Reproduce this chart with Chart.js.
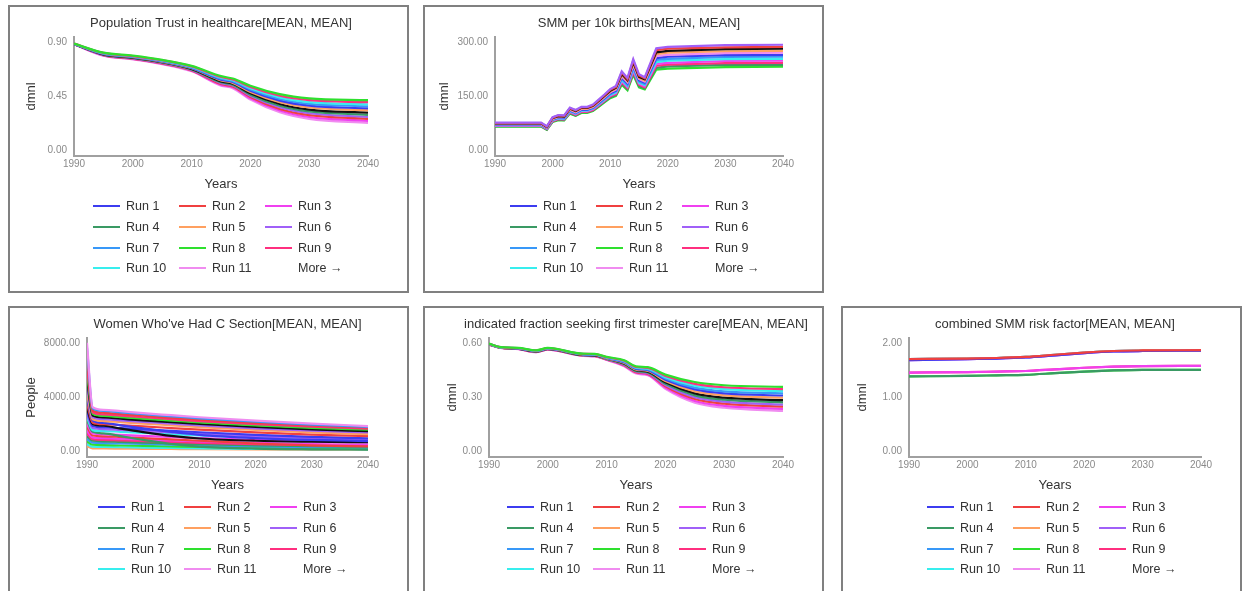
<!DOCTYPE html>
<html>
<head>
<meta charset="utf-8">
<script src="https://cdn.jsdelivr.net/npm/chart.js@4.4.0/dist/chart.umd.min.js"></script>
<style>
body { margin: 0; background: #fff; font-family: "Liberation Sans", Arial, sans-serif; }
.panel { position: absolute; width: 401px; height: 288px; border: 2px solid #808080; box-sizing: border-box; background: #fff; }
.panel canvas { position: absolute; left: 0; top: 0; }
.legend { position: absolute; top: 189px; display: grid; grid-template-columns: 86px 86px 86px; grid-auto-rows: 20.7px; font-size: 12.5px; color: #333; }
.legend div { display: flex; align-items: center; white-space: nowrap; }
.legend .sw { display: inline-block; width: 27px; height: 2px; margin-right: 6px; }
</style>
</head>
<body>
<div class="panel" style="left:8px;top:5px"><canvas id="c1" width="397" height="190"></canvas><div class="legend" id="l1" style="left:83px"></div></div>
<div class="panel" style="left:423px;top:5px"><canvas id="c2" width="397" height="190"></canvas><div class="legend" id="l2" style="left:85px"></div></div>
<div class="panel" style="left:8px;top:306px"><canvas id="c3" width="397" height="190"></canvas><div class="legend" id="l3" style="left:88px"></div></div>
<div class="panel" style="left:423px;top:306px"><canvas id="c4" width="397" height="190"></canvas><div class="legend" id="l4" style="left:82px"></div></div>
<div class="panel" style="left:841px;top:306px"><canvas id="c5" width="397" height="190"></canvas><div class="legend" id="l5" style="left:84px"></div></div>
<script>
const runColors = ['#3c3cf0', '#f04040', '#f040f0', '#3a9a64', '#ffa060', '#a060f8', '#3898f8', '#2ee02e', '#ff2f7f', '#38eeee', '#f08cf0', '#111111'];
const legendRuns = [1, 2, 3, 4, 5, 6, 7, 8, 9, 10, 11];
const xTicks = [1990, 2000, 2010, 2020, 2030, 2040];

// Population Trust in healthcare
const trustYears = [1990, 1995, 2000, 2005, 2010, 2015, 2017, 2020, 2025, 2030, 2040];
const trustTicks = [0, 0.45, 0.9];
const trustIds = [8, 9, 10, 7, 1, 5, 12, 4, 6, 2, 3, 11];
const trustValues = [
  [0.885, 0.810, 0.785, 0.750, 0.700, 0.615, 0.595, 0.535, 0.465, 0.430, 0.415],
  [0.885, 0.808, 0.782, 0.747, 0.696, 0.608, 0.588, 0.525, 0.452, 0.415, 0.398],
  [0.884, 0.806, 0.780, 0.744, 0.692, 0.601, 0.581, 0.514, 0.438, 0.399, 0.381],
  [0.884, 0.803, 0.777, 0.741, 0.688, 0.593, 0.573, 0.504, 0.425, 0.384, 0.364],
  [0.883, 0.801, 0.774, 0.737, 0.684, 0.586, 0.566, 0.494, 0.411, 0.369, 0.347],
  [0.883, 0.799, 0.772, 0.734, 0.680, 0.579, 0.559, 0.483, 0.398, 0.354, 0.330],
  [0.882, 0.796, 0.769, 0.731, 0.675, 0.571, 0.551, 0.472, 0.383, 0.337, 0.311],
  [0.882, 0.794, 0.766, 0.728, 0.671, 0.564, 0.544, 0.461, 0.369, 0.321, 0.293],
  [0.881, 0.792, 0.763, 0.724, 0.667, 0.557, 0.537, 0.451, 0.356, 0.306, 0.276],
  [0.881, 0.790, 0.760, 0.721, 0.663, 0.549, 0.529, 0.441, 0.342, 0.291, 0.259],
  [0.880, 0.787, 0.758, 0.718, 0.659, 0.542, 0.522, 0.430, 0.329, 0.275, 0.242],
  [0.880, 0.785, 0.755, 0.715, 0.655, 0.535, 0.515, 0.420, 0.315, 0.260, 0.225]
];

// SMM per 10k births
const smmYears = [1990, 1998, 1999, 2000, 2001, 2002, 2003, 2004, 2005, 2006, 2007, 2008, 2009, 2010, 2011, 2012, 2013, 2014, 2015, 2016, 2018, 2020, 2030, 2040];
const smmTicks = [0, 150, 300];
const smmIds = [6, 2, 12, 5, 11, 1, 7, 10, 3, 9, 4, 8];
const smmValues = [
  [76, 76, 66, 91, 97, 96, 118, 111, 120, 120, 126, 140, 154, 169, 178, 218, 200, 252, 210, 202, 282, 286, 291, 292],
  [75, 75, 65, 90, 96, 95, 116, 110, 118, 118, 124, 138, 152, 167, 175, 215, 197, 248, 207, 199, 277, 281, 285, 286],
  [74, 74, 64, 89, 94, 93, 115, 108, 117, 117, 123, 136, 150, 164, 173, 211, 194, 244, 203, 196, 271, 275, 280, 281],
  [73, 73, 63, 87, 93, 92, 113, 107, 115, 115, 121, 135, 148, 162, 170, 208, 191, 240, 200, 193, 266, 270, 274, 275],
  [72, 72, 62, 86, 92, 91, 112, 105, 114, 114, 119, 133, 146, 160, 168, 205, 188, 236, 197, 190, 261, 264, 269, 270],
  [71, 71, 61, 85, 91, 90, 110, 104, 112, 112, 118, 131, 144, 158, 165, 201, 185, 232, 194, 187, 255, 259, 263, 264],
  [70, 70, 61, 84, 89, 88, 109, 102, 111, 111, 116, 129, 142, 155, 163, 198, 181, 229, 190, 183, 250, 253, 258, 259],
  [69, 69, 60, 83, 88, 87, 107, 101, 109, 109, 115, 127, 140, 153, 160, 194, 178, 225, 187, 180, 244, 248, 252, 253],
  [68, 68, 59, 82, 87, 86, 106, 99, 108, 108, 113, 125, 138, 151, 158, 191, 175, 221, 184, 177, 239, 242, 247, 248],
  [67, 67, 58, 80, 86, 85, 104, 98, 106, 106, 111, 124, 136, 149, 155, 188, 172, 217, 181, 174, 234, 237, 241, 242],
  [66, 66, 57, 79, 84, 83, 103, 96, 105, 105, 110, 122, 134, 146, 153, 184, 169, 213, 177, 171, 228, 232, 236, 236],
  [65, 65, 56, 78, 83, 82, 101, 95, 103, 103, 108, 120, 132, 144, 150, 181, 166, 209, 174, 168, 223, 226, 230, 231]
];

// Women Who've Had C Section
const csYears = [1990, 1991, 1993, 1996, 2000, 2005, 2010, 2020, 2030, 2040];
const csTicks = [0, 4000, 8000];
const csIds = [11, 7, 2, 9, 8, 12, 6, 5, 13, 14, 24, 1, 18, 10, 4, 15, 26, 3, 21, 16, 19, 20, 22, 17];
const csValues = [
  [8000, 3250, 3050, 2950, 2800, 2650, 2500, 2250, 2030, 1850],
  [7650, 3150, 2960, 2860, 2720, 2570, 2420, 2170, 1960, 1790],
  [6950, 3000, 2830, 2740, 2610, 2470, 2330, 2090, 1890, 1740],
  [6300, 2870, 2710, 2620, 2500, 2360, 2220, 1990, 1800, 1660],
  [5800, 2750, 2600, 2510, 2390, 2250, 2110, 1890, 1710, 1580],
  [5300, 2620, 2480, 2390, 2270, 2140, 2000, 1780, 1600, 1470],
  [4800, 2500, 2360, 2270, 2160, 2030, 1890, 1680, 1510, 1380],
  [4300, 2350, 2220, 2140, 2030, 1900, 1770, 1560, 1380, 1250],
  [3900, 2250, 2080, 1900, 1680, 1420, 1200, 960, 820, 740],
  [3500, 2100, 1990, 1920, 1820, 1700, 1580, 1380, 1220, 1100],
  [3200, 2000, 1870, 1660, 1400, 1120, 930, 760, 690, 650],
  [3000, 1850, 1760, 1700, 1610, 1500, 1390, 1200, 1050, 940],
  [2700, 1700, 1620, 1560, 1480, 1380, 1270, 1090, 950, 850],
  [2500, 1550, 1480, 1420, 1350, 1250, 1150, 990, 870, 790],
  [2300, 1420, 1300, 1100, 820, 520, 330, 180, 130, 110],
  [2000, 1300, 1240, 1190, 1120, 1040, 960, 820, 710, 640],
  [1800, 1150, 1090, 1040, 960, 860, 760, 560, 420, 350],
  [1500, 1000, 950, 910, 860, 790, 720, 610, 520, 470],
  [1300, 880, 830, 790, 740, 670, 610, 510, 440, 400],
  [1100, 760, 720, 680, 630, 570, 510, 420, 360, 320],
  [900, 620, 590, 560, 520, 470, 420, 340, 290, 260],
  [700, 470, 440, 410, 380, 340, 300, 240, 200, 180],
  [500, 320, 300, 280, 260, 230, 200, 160, 140, 130],
  [350, 200, 190, 180, 165, 150, 135, 115, 100, 95]
];

// indicated fraction seeking first trimester care
const triYears = [1990, 1992, 1995, 1998, 2000, 2006, 2008, 2010, 2013, 2015, 2017, 2020, 2025, 2030, 2040];
const triTicks = [0, 0.3, 0.6];
const triIds = [8, 9, 10, 7, 1, 5, 12, 4, 6, 2, 3, 11];
const triValues = [
  [0.596, 0.576, 0.572, 0.559, 0.572, 0.540, 0.539, 0.522, 0.504, 0.470, 0.465, 0.424, 0.383, 0.365, 0.356],
  [0.595, 0.576, 0.571, 0.558, 0.571, 0.539, 0.538, 0.520, 0.501, 0.466, 0.461, 0.417, 0.373, 0.354, 0.344],
  [0.595, 0.575, 0.571, 0.557, 0.570, 0.538, 0.536, 0.519, 0.498, 0.463, 0.457, 0.410, 0.362, 0.343, 0.332],
  [0.594, 0.575, 0.570, 0.556, 0.569, 0.537, 0.535, 0.517, 0.495, 0.459, 0.453, 0.403, 0.352, 0.331, 0.320],
  [0.594, 0.575, 0.569, 0.555, 0.568, 0.536, 0.534, 0.516, 0.492, 0.456, 0.449, 0.396, 0.342, 0.320, 0.308],
  [0.593, 0.574, 0.569, 0.554, 0.568, 0.535, 0.533, 0.514, 0.489, 0.452, 0.445, 0.388, 0.331, 0.309, 0.296],
  [0.593, 0.574, 0.568, 0.553, 0.567, 0.533, 0.531, 0.513, 0.485, 0.448, 0.440, 0.381, 0.320, 0.296, 0.282],
  [0.592, 0.573, 0.568, 0.552, 0.566, 0.532, 0.530, 0.511, 0.482, 0.444, 0.436, 0.373, 0.309, 0.285, 0.270],
  [0.592, 0.573, 0.567, 0.551, 0.565, 0.531, 0.529, 0.510, 0.479, 0.441, 0.432, 0.366, 0.299, 0.274, 0.258],
  [0.591, 0.573, 0.566, 0.550, 0.564, 0.530, 0.528, 0.508, 0.476, 0.437, 0.428, 0.359, 0.289, 0.263, 0.246],
  [0.591, 0.572, 0.566, 0.549, 0.563, 0.529, 0.526, 0.507, 0.473, 0.434, 0.424, 0.352, 0.278, 0.251, 0.234],
  [0.590, 0.572, 0.565, 0.548, 0.562, 0.528, 0.525, 0.505, 0.470, 0.430, 0.420, 0.345, 0.268, 0.240, 0.222]
];

// combined SMM risk factor
const riskYears = [1990, 2000, 2005, 2010, 2015, 2020, 2025, 2030, 2040];
const riskTicks = [0, 1, 2];
const riskIds = [2, 1, 3, 4, 5, 6, 7, 8, 9, 10, 11];
const riskValues = [
  [1.70, 1.71, 1.72, 1.74, 1.78, 1.82, 1.85, 1.86, 1.865],
  [1.68, 1.70, 1.71, 1.73, 1.77, 1.81, 1.84, 1.85, 1.855],
  [1.45, 1.46, 1.47, 1.48, 1.51, 1.54, 1.56, 1.57, 1.575],
  [1.38, 1.39, 1.40, 1.41, 1.44, 1.47, 1.49, 1.50, 1.50],
  [1.70, 1.71, 1.72, 1.74, 1.78, 1.82, 1.85, 1.86, 1.865],
  [1.68, 1.70, 1.71, 1.73, 1.77, 1.81, 1.84, 1.85, 1.855],
  [1.70, 1.71, 1.72, 1.74, 1.78, 1.82, 1.85, 1.86, 1.865],
  [1.38, 1.39, 1.40, 1.41, 1.44, 1.47, 1.49, 1.50, 1.50],
  [1.45, 1.46, 1.47, 1.48, 1.51, 1.54, 1.56, 1.57, 1.575],
  [1.70, 1.71, 1.72, 1.74, 1.78, 1.82, 1.85, 1.86, 1.865],
  [1.68, 1.70, 1.71, 1.73, 1.77, 1.81, 1.84, 1.85, 1.855]
];

const fontFamily = '"Liberation Sans", Arial, sans-serif';

// title centred over the plot area, like the original tool does
const panelTitle = {
  id: 'panelTitle',
  afterDraw(chart, args, opts) {
    const { ctx, chartArea } = chart;
    ctx.save();
    ctx.font = '13px ' + fontFamily;
    ctx.fillStyle = '#333';
    ctx.textAlign = 'center';
    ctx.textBaseline = 'middle';
    ctx.fillText(opts.text, (chartArea.left + chartArea.right) / 2, 16);
    ctx.restore();
  }
};

function lineSets(years, ids, values) {
  return ids.map((id, i) => ({
    label: 'Run ' + id,
    data: values[i].map((v, j) => ({ x: years[j], y: v })),
    borderColor: runColors[(id - 1) % runColors.length],
    borderWidth: 2.2,
    pointRadius: 0,
    fill: false
  }));
}

function buildLegend(id) {
  const box = document.getElementById(id);
  legendRuns.forEach(r => {
    const d = document.createElement('div');
    d.innerHTML = '<span class="sw" style="background:' + runColors[r - 1] + '"></span>Run ' + r;
    box.appendChild(d);
  });
  const more = document.createElement('div');
  more.innerHTML = '<span class="sw"></span>More \u2192';
  box.appendChild(more);
}

function drawPanel(canvasId, legendId, o) {
  const top = o.ticks[o.ticks.length - 1];
  new Chart(document.getElementById(canvasId), {
    type: 'line',
    data: { datasets: lineSets(o.years, o.ids, o.values) },
    options: {
      animation: false,
      responsive: false,
      devicePixelRatio: 1,
      layout: { padding: { top: 30, right: 39, left: 0, bottom: 0 } },
      elements: { line: { tension: o.smooth ? 0.4 : 0, cubicInterpolationMode: o.smooth ? 'monotone' : 'default' } },
      plugins: { legend: { display: false }, tooltip: { enabled: false }, panelTitle: { text: o.title } },
      scales: {
        x: {
          type: 'linear', min: 1990, max: 2040,
          afterBuildTicks: s => { s.ticks = xTicks.map(v => ({ value: v })); },
          afterFit: s => { s.height = 41; },
          ticks: { callback: v => String(v), color: '#8a8a8a', font: { size: 10, family: fontFamily }, padding: 2, maxRotation: 0, autoSkip: false },
          grid: { color: 'transparent', drawTicks: false },
          border: { color: '#a0a0a0', width: 2 },
          title: { display: true, text: 'Years', color: '#333', font: { size: 13, family: fontFamily }, padding: 5 }
        },
        y: {
          min: -0.055 * top, max: 1.045 * top,
          afterBuildTicks: s => { s.ticks = o.ticks.map(v => ({ value: v })); },
          afterFit: s => { s.width = o.yWidth; },
          ticks: { callback: v => v.toFixed(2), color: '#8a8a8a', font: { size: 10, family: fontFamily }, padding: 7 },
          grid: { color: 'transparent', drawTicks: false },
          border: { color: '#a0a0a0', width: 2 },
          title: { display: true, text: o.yTitle, color: '#333', font: { size: 13, family: fontFamily }, padding: o.yTitlePad }
        }
      }
    },
    plugins: [panelTitle]
  });
  buildLegend(legendId);
}

drawPanel('c1', 'l1', { title: 'Population Trust in healthcare[MEAN, MEAN]', yTitle: 'dmnl', years: trustYears, ids: trustIds, values: trustValues, ticks: trustTicks, yWidth: 64, yTitlePad: 14, smooth: true });
drawPanel('c2', 'l2', { title: 'SMM per 10k births[MEAN, MEAN]', yTitle: 'dmnl', years: smmYears, ids: smmIds, values: smmValues, ticks: smmTicks, yWidth: 70, yTitlePad: 12, smooth: false });
drawPanel('c3', 'l3', { title: "Women Who've Had C Section[MEAN, MEAN]", yTitle: 'People', years: csYears, ids: csIds, values: csValues, ticks: csTicks, yWidth: 77, yTitlePad: 14, smooth: true });
drawPanel('c4', 'l4', { title: 'indicated fraction seeking first trimester care[MEAN, MEAN]', yTitle: 'dmnl', years: triYears, ids: triIds, values: triValues, ticks: triTicks, yWidth: 64, yTitlePad: 20, smooth: true });
drawPanel('c5', 'l5', { title: 'combined SMM risk factor[MEAN, MEAN]', yTitle: 'dmnl', years: riskYears, ids: riskIds, values: riskValues, ticks: riskTicks, yWidth: 66, yTitlePad: 12, smooth: true });
</script>
</body>
</html>
